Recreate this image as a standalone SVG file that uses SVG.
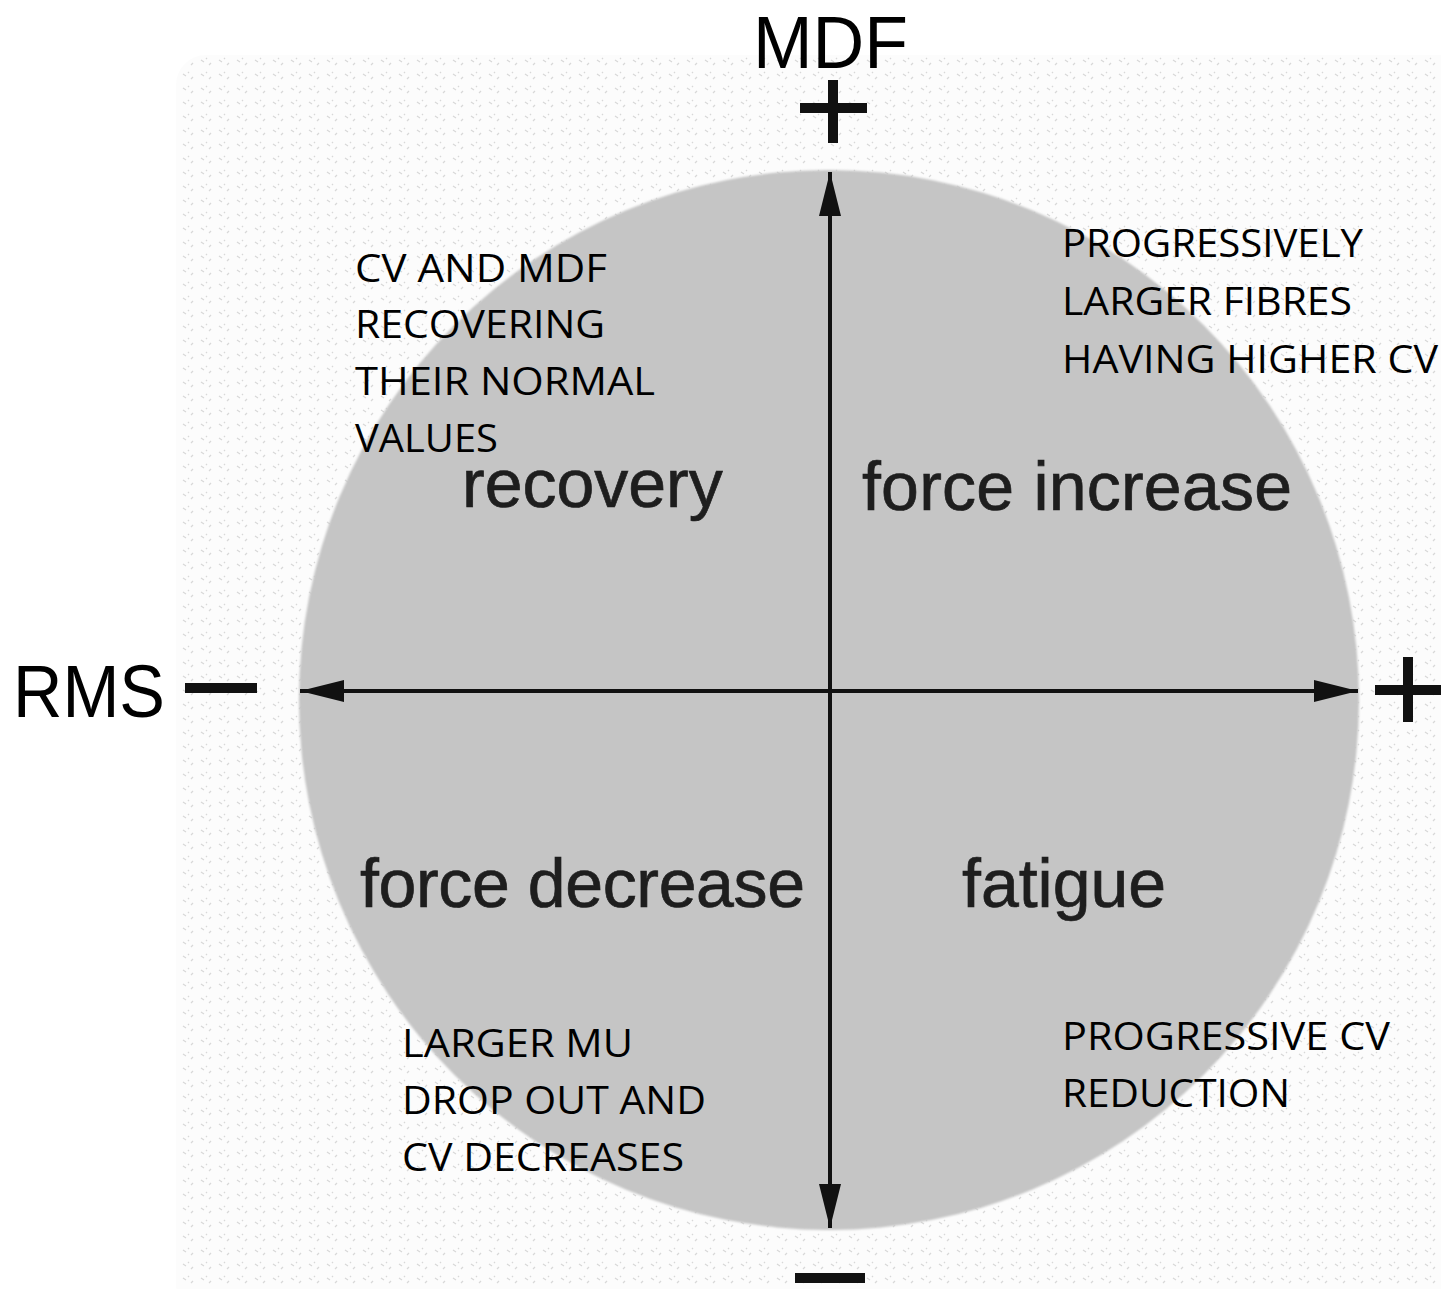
<svg xmlns="http://www.w3.org/2000/svg" width="1441" height="1289" viewBox="0 0 1441 1289">
<defs>
<pattern id="dots" x="0" y="0" width="18" height="14" patternUnits="userSpaceOnUse">
<rect width="18" height="14" fill="#fcfcfc"/>
<path d="M3 4 l3 2 M11 9 l2 -2 M8 2 l1 1" stroke="#d8d8d8" stroke-width="1.2" fill="none"/>
</pattern>
<marker id="ah" viewBox="0 0 44 22" refX="44" refY="11" markerWidth="44" markerHeight="22" markerUnits="userSpaceOnUse" orient="auto">
<path d="M0 0 L44 11 L0 22 Z" fill="#111"/>
</marker>
<filter id="soft" x="-5%" y="-5%" width="110%" height="110%"><feGaussianBlur stdDeviation="0.8"/></filter>
</defs>
<style>
.axis{stroke:#111;stroke-width:4;fill:none}
.sign{stroke:#111;stroke-width:10;stroke-linecap:butt;fill:none}
.big{font-family:"Liberation Sans",Arial,sans-serif;font-size:74px;fill:#000}
.note{font-family:"Open Sans","Liberation Sans",sans-serif;font-size:38px;fill:#000}
.quad{font-family:"Liberation Sans",Arial,sans-serif;font-size:68px;fill:#1e1e1e;stroke:#1e1e1e;stroke-width:0.7}
</style>
<rect width="1441" height="1289" fill="#fff"/>
<rect x="176" y="55" width="1300" height="1260" rx="30" fill="url(#dots)"/>
<g id="circle"><circle cx="829" cy="700" r="530" fill="#c5c5c5" filter="url(#soft)"/></g>
<g id="connectors">
<line class="axis" x1="830" y1="1228" x2="830" y2="172" marker-end="url(#ah)"/>
<line class="axis" x1="830" y1="172" x2="830" y2="1228" marker-end="url(#ah)"/>
<line class="axis" x1="830" y1="691" x2="300" y2="691" marker-end="url(#ah)"/>
<line class="axis" x1="830" y1="691" x2="1358" y2="691" marker-end="url(#ah)"/>
</g>
<g id="signs">
<path class="sign" d="M800 108 H867 M833 80 V143"/>
<path class="sign" d="M1375 690 H1441 M1408 657 V722"/>
<path class="sign" d="M185 688 H257"/>
<path class="sign" d="M795 1278 H865"/>
</g>
<g id="axis-labels">
<text class="big" x="753" y="68" textLength="155" lengthAdjust="spacingAndGlyphs">MDF</text>
<text class="big" x="13" y="717" textLength="152" lengthAdjust="spacingAndGlyphs">RMS</text>
</g>
<g id="quadrant-labels">
<text class="quad" x="462" y="507">recovery</text>
<text class="quad" x="862" y="510" textLength="430">force increase</text>
<text class="quad" x="360" y="907" textLength="445">force decrease</text>
<text class="quad" x="962" y="907">fatigue</text>
</g>
<g id="note-top-left">
<text class="note" x="355" y="282" textLength="252" lengthAdjust="spacingAndGlyphs">CV AND MDF</text>
<text class="note" x="355" y="338" textLength="250" lengthAdjust="spacingAndGlyphs">RECOVERING</text>
<text class="note" x="355" y="395" textLength="300" lengthAdjust="spacingAndGlyphs">THEIR NORMAL</text>
<text class="note" x="355" y="452" textLength="143" lengthAdjust="spacingAndGlyphs">VALUES</text>
</g>
<g id="note-top-right">
<text class="note" x="1062" y="257" textLength="301" lengthAdjust="spacingAndGlyphs">PROGRESSIVELY</text>
<text class="note" x="1062" y="315" textLength="290" lengthAdjust="spacingAndGlyphs">LARGER FIBRES</text>
<text class="note" x="1062" y="373" textLength="376" lengthAdjust="spacingAndGlyphs">HAVING HIGHER CV</text>
</g>
<g id="note-bottom-left">
<text class="note" x="402" y="1057" textLength="231" lengthAdjust="spacingAndGlyphs">LARGER MU</text>
<text class="note" x="402" y="1114" textLength="304" lengthAdjust="spacingAndGlyphs">DROP OUT AND</text>
<text class="note" x="402" y="1171" textLength="282" lengthAdjust="spacingAndGlyphs">CV DECREASES</text>
</g>
<g id="note-bottom-right">
<text class="note" x="1062" y="1050" textLength="328" lengthAdjust="spacingAndGlyphs">PROGRESSIVE CV</text>
<text class="note" x="1062" y="1107" textLength="228" lengthAdjust="spacingAndGlyphs">REDUCTION</text>
</g>
</svg>
